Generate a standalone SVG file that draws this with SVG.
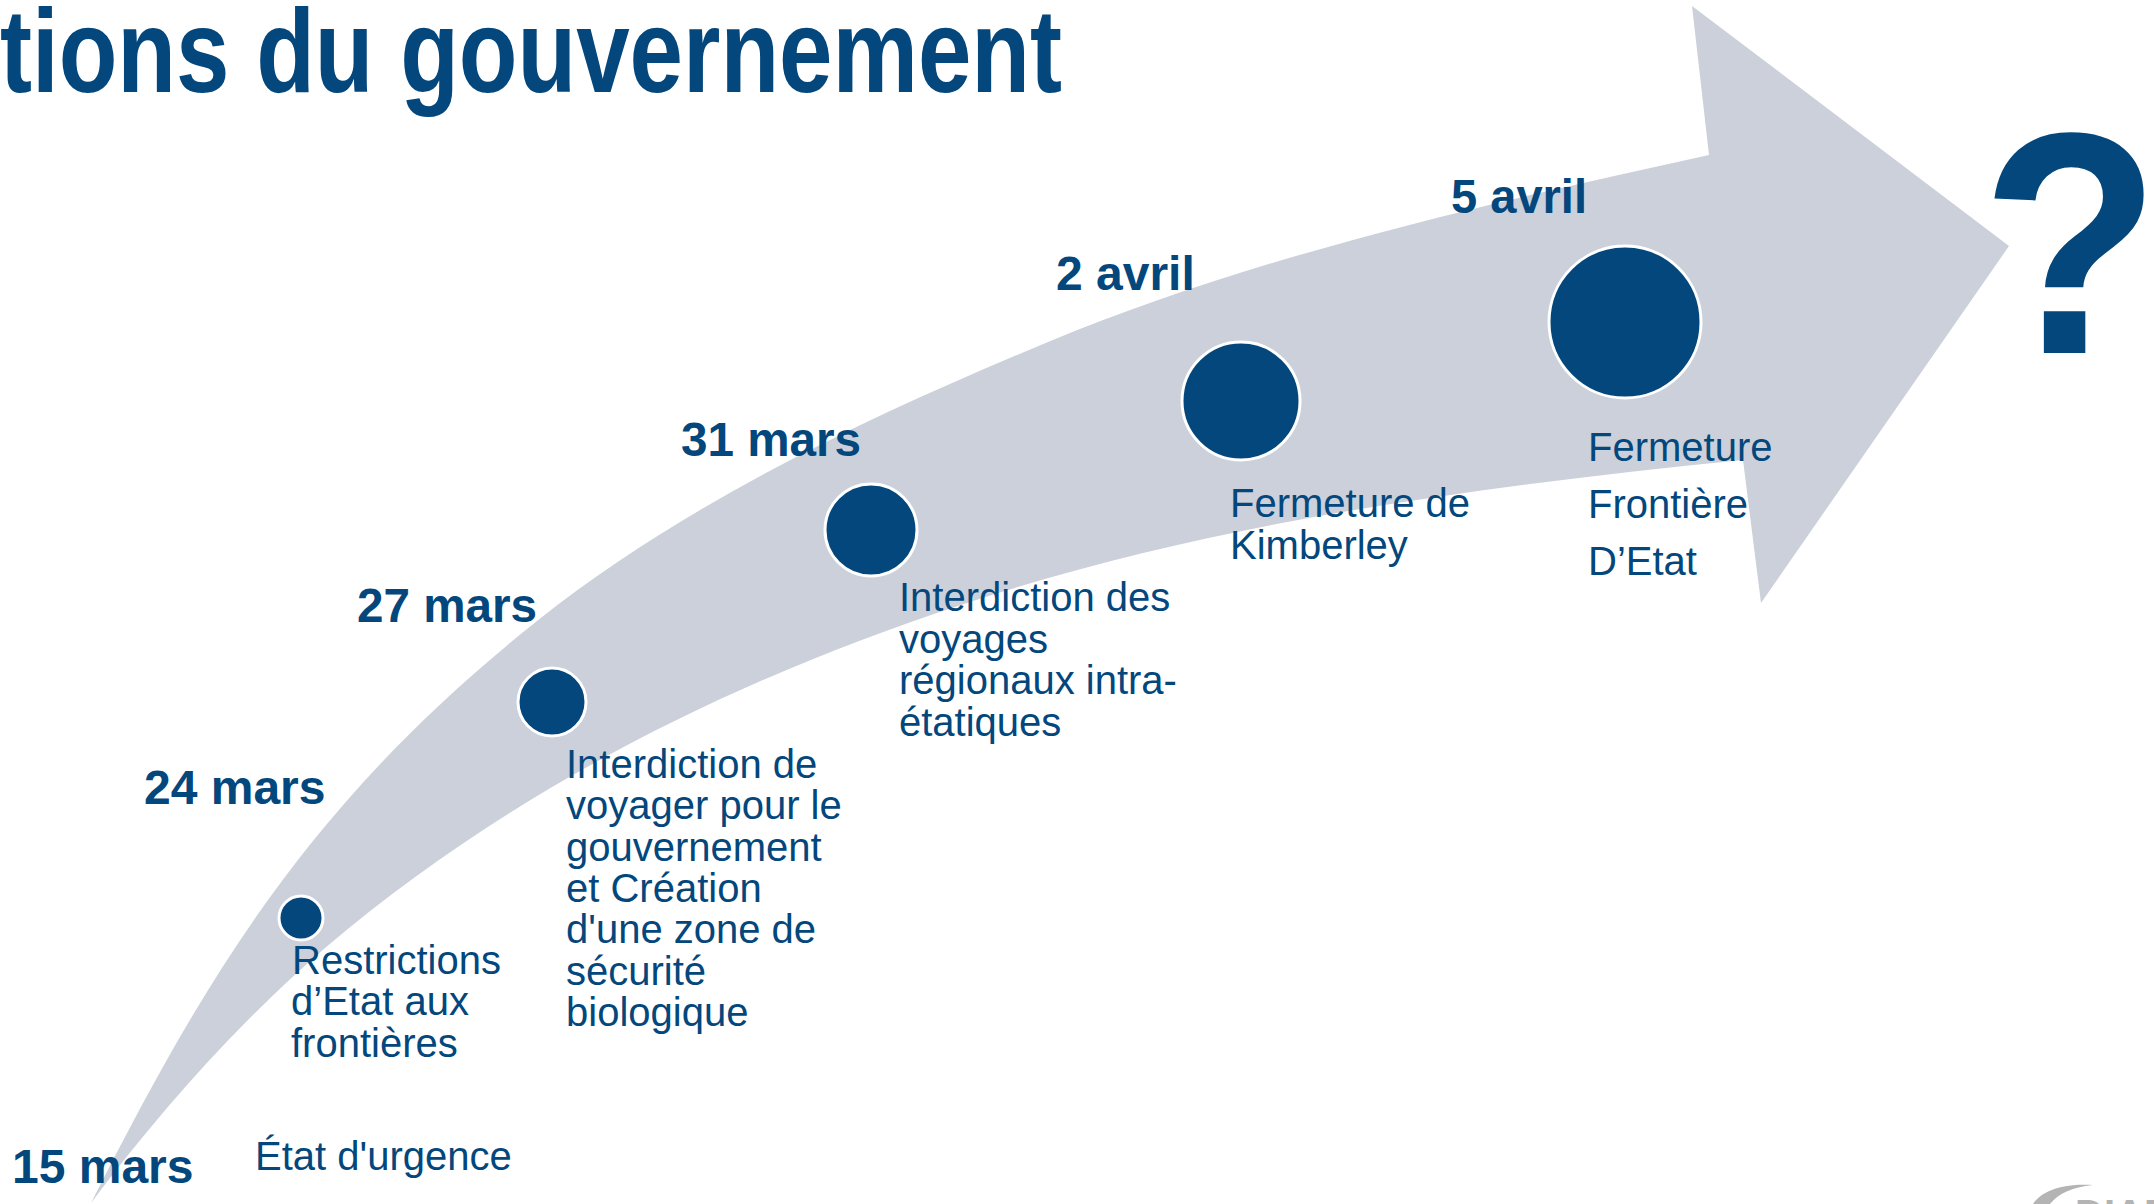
<svg xmlns="http://www.w3.org/2000/svg" width="2154" height="1204" viewBox="0 0 2154 1204">
<style>
text{font-family:"Liberation Sans",Arial,sans-serif;fill:#03477C}
.d{font-size:48px;font-weight:700}
.b{font-size:40px}
.c{fill:#03477C;stroke:#fff;stroke-width:3}
</style>
<rect width="2154" height="1204" fill="#fff"/>
<g id="connectors">
<path id="arrow" fill="#CBD0DA" d="M91 1203C208 972 311 801 537 621C688 501 870 416 1048 342C1259 255 1485 204 1709 155L1692 6L2009 246L1761 603L1743 460C1483 486 1217 521 967 603C736 678 510 790 325 948C238 1023 160 1111 91 1203Z"/>
</g>
<g id="logo">
<path fill="#B4B4B4" d="M2033 1204C2042 1190 2065 1183 2093 1185C2072 1187 2058 1194 2050 1204Z"/>
<text x="2075" y="1228" font-size="40" font-weight="700" style="fill:#B4B4B4">DIAR</text>
</g>
<text id="title" x="0" y="92" font-size="118" font-weight="700" textLength="1062" lengthAdjust="spacingAndGlyphs">tions du gouvernement</text>
<g id="n1"><text class="d" x="12" y="1183">15 mars</text><text class="b" x="255" y="1170">État d'urgence</text></g>
<g id="n2"><circle class="c" cx="301" cy="918" r="22"/><text class="d" x="144" y="804">24 mars</text>
<text class="b" x="292" y="974">Restrictions</text><text class="b" x="291" y="1015">d’Etat aux</text><text class="b" x="291" y="1057">frontières</text></g>
<g id="n3"><circle class="c" cx="552" cy="702" r="34"/><text class="d" x="357" y="622" textLength="180" lengthAdjust="spacingAndGlyphs">27 mars</text>
<text class="b" x="566" y="778">Interdiction de</text><text class="b" x="566" y="819">voyager pour le</text><text class="b" x="566" y="861">gouvernement</text><text class="b" x="566" y="902">et Création</text><text class="b" x="566" y="943">d'une zone de</text><text class="b" x="566" y="985">sécurité</text><text class="b" x="566" y="1026">biologique</text></g>
<g id="n4"><circle class="c" cx="871" cy="530" r="46"/><text class="d" x="681" y="456" textLength="180" lengthAdjust="spacingAndGlyphs">31 mars</text>
<text class="b" x="899" y="611">Interdiction des</text><text class="b" x="899" y="653">voyages</text><text class="b" x="899" y="694">régionaux intra-</text><text class="b" x="899" y="736">étatiques</text></g>
<g id="n5"><circle class="c" cx="1241" cy="401" r="59"/><text class="d" x="1056" y="290">2 avril</text>
<text class="b" x="1230" y="517">Fermeture de</text><text class="b" x="1230" y="559">Kimberley</text></g>
<g id="n6"><circle class="c" cx="1625" cy="322" r="76"/><text class="d" x="1451" y="213" textLength="136" lengthAdjust="spacingAndGlyphs">5 avril</text>
<text class="b" x="1588" y="461">Fermeture</text><text class="b" x="1588" y="518">Frontière</text><text class="b" x="1588" y="575">D’Etat</text></g>
<text id="q" transform="translate(1981 353) scale(.93 1)" font-size="316" font-weight="700">?</text>
</svg>
